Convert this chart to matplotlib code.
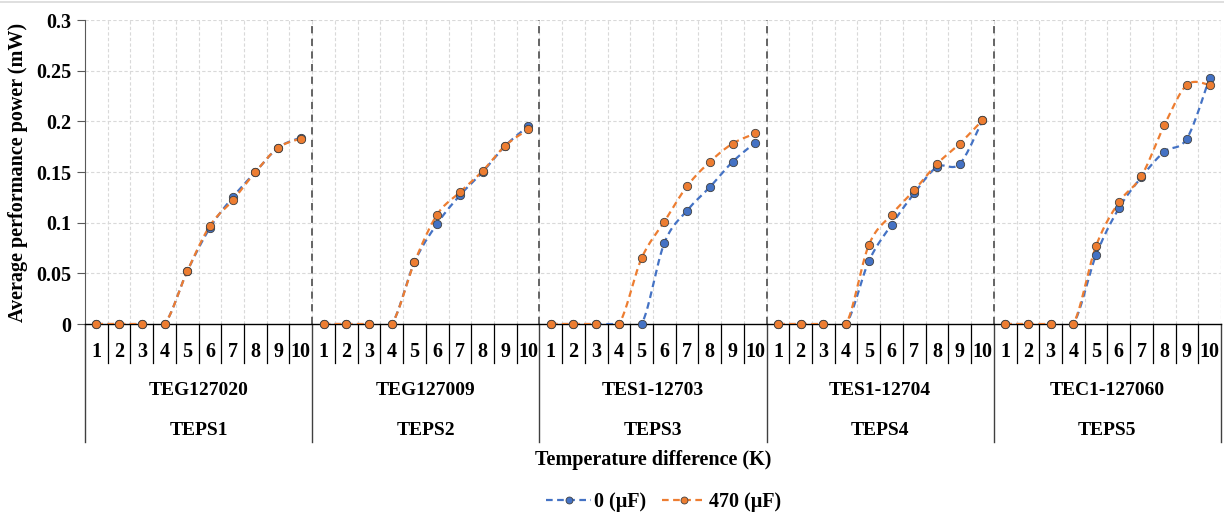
import numpy as np
import matplotlib.pyplot as plt
from matplotlib.lines import Line2D

plt.rcParams['font.family'] = ['Liberation Serif', 'DejaVu Serif']
plt.rcParams['font.weight'] = 'bold'

temps = list(range(1, 11))
modules = ["TEG127020", "TEG127009", "TES1-12703", "TES1-12704", "TEC1-127060"]
systems = ["TEPS1", "TEPS2", "TEPS3", "TEPS4", "TEPS5"]

# average power (mW), one list of 10 values per TEPS
power_0uF = [
    [0, 0, 0, 0, 0.052, 0.095, 0.125, 0.150, 0.174, 0.184],
    [0, 0, 0, 0, 0.061, 0.099, 0.127, 0.150, 0.176, 0.195],
    [0, 0, 0, 0, 0.000, 0.080, 0.112, 0.135, 0.160, 0.179],
    [0, 0, 0, 0, 0.062, 0.098, 0.129, 0.155, 0.158, 0.201],
    [0, 0, 0, 0, 0.068, 0.114, 0.145, 0.170, 0.183, 0.243],
]
power_470uF = [
    [0, 0, 0, 0, 0.052, 0.097, 0.122, 0.150, 0.174, 0.183],
    [0, 0, 0, 0, 0.061, 0.108, 0.130, 0.151, 0.176, 0.192],
    [0, 0, 0, 0, 0.065, 0.101, 0.136, 0.160, 0.178, 0.188],
    [0, 0, 0, 0, 0.078, 0.108, 0.132, 0.158, 0.178, 0.201],
    [0, 0, 0, 0, 0.077, 0.120, 0.146, 0.196, 0.236, 0.236],
]

BLUE = "#4472C4"
ORANGE = "#ED7D31"


def smooth(x, y, n=24):
    # Catmull-Rom style bezier, close to Excel's "smoothed line"
    x = np.asarray(x, float)
    y = np.asarray(y, float)
    pts = np.column_stack([x, y])
    out = []
    for i in range(len(pts) - 1):
        p0 = pts[max(i - 1, 0)]
        p1 = pts[i]
        p2 = pts[i + 1]
        p3 = pts[min(i + 2, len(pts) - 1)]
        c1 = p1 + (p2 - p0) / 6
        c2 = p2 - (p3 - p1) / 6
        t = np.linspace(0, 1, n)[:, None]
        seg = ((1 - t) ** 3 * p1 + 3 * (1 - t) ** 2 * t * c1
               + 3 * (1 - t) * t ** 2 * c2 + t ** 3 * p2)
        out.append(seg if i == 0 else seg[1:])
    out = np.vstack(out)
    return out[:, 0], out[:, 1]


fig = plt.figure(figsize=(12.24, 5.15), dpi=100)
ax = fig.add_axes([85 / 1224, 1 - 324 / 515, (1221 - 85) / 1224, 304 / 515])

ncat = len(temps) * len(modules)
ax.set_xlim(-0.5, ncat - 0.5)
ax.set_ylim(0, 0.3)

# grid
for b in np.arange(0.5, ncat, 1.0):
    ax.axvline(b, color="#D9D9D9", lw=0.8, ls=(0, (3, 2)), zorder=0)
ax.axvline(ncat - 0.5, color="#D9D9D9", lw=0.8, ls=(0, (3, 2)), zorder=0)
for v in np.arange(0.05, 0.31, 0.05):
    ax.axhline(v, color="#D9D9D9", lw=0.8, ls=(0, (3, 2)), zorder=0)

# group separators
for g in range(1, len(modules)):
    ax.axvline(g * 10 - 0.5, color="#595959", lw=1.3, ls=(0, (4, 3)), zorder=1)

for g in range(len(modules)):
    xs = np.arange(g * 10, g * 10 + 10)
    for vals, col in [(power_0uF[g], BLUE), (power_470uF[g], ORANGE)]:
        sx, sy = smooth(xs, vals)
        ax.plot(sx, sy, color=col, lw=1.6, ls=(0, (3, 2)), zorder=3)
        ax.plot(xs, vals, ls="none", marker="o", ms=6, mfc=col,
                mec="#404040", mew=0.6, zorder=4, clip_on=False)

for s in ["top", "right"]:
    ax.spines[s].set_visible(False)
ax.spines["left"].set_color("#595959")
ax.spines["bottom"].set_color("black")
ax.spines["bottom"].set_linewidth(1.0)

ax.set_yticks(np.arange(0, 0.31, 0.05))
ax.set_yticklabels(["0", "0.05", "0.1", "0.15", "0.2", "0.25", "0.3"])
ax.tick_params(axis="y", direction="out", length=6, color="#595959",
               labelsize=14.5, pad=4)
ax.set_xticks([])

# multi-level category axis
tr = ax.get_xaxis_transform()
for b in np.arange(0.5, ncat - 1, 1.0):
    if (b + 0.5) % 10 == 0:
        continue
    ax.plot([b, b], [0, -0.128], color="black", lw=0.9, transform=tr,
            clip_on=False)
for g in range(len(modules) + 1):
    b = g * 10 - 0.5
    ax.plot([b, b], [0, -0.388], color="#404040", lw=1.0, transform=tr,
            clip_on=False)
for g in range(len(modules)):
    for k, t in enumerate(temps):
        ax.text(g * 10 + k, -0.091, str(t), transform=tr, ha="center",
                va="center", fontsize=14.5, fontweight="bold")
    ax.text(g * 10 + 4.5, -0.220, modules[g], transform=tr, ha="center",
            va="center", fontsize=14, fontweight="bold")
    ax.text(g * 10 + 4.5, -0.349, systems[g], transform=tr, ha="center",
            va="center", fontsize=14, fontweight="bold")

fig.text(653 / 1224, 1 - 460 / 515, "Temperature difference (K)",
         ha="center", va="center", fontsize=14.5, fontweight="bold")
fig.text(18 / 1224, 1 - 172 / 515, "Average performance power (mW)",
         ha="center", va="center", rotation=90, fontsize=14.5,
         fontweight="bold")

handles = [
    Line2D([], [], color=BLUE, lw=1.6, ls=(0, (3, 2)), marker="o", ms=5,
           mfc=BLUE, mec="#404040", mew=0.6),
    Line2D([], [], color=ORANGE, lw=1.6, ls=(0, (3, 2)), marker="o", ms=5,
           mfc=ORANGE, mec="#404040", mew=0.6),
]
fig.legend(handles, ["0 (\u03bcF)", "470 (\u03bcF)"], loc="center",
           bbox_to_anchor=(664 / 1224, 1 - 502 / 515), ncol=2, frameon=False,
           fontsize=14.5, handlelength=2.2, columnspacing=0.8,
           handletextpad=0.15)

fig.add_artist(Line2D([0, 1], [1 - 2 / 515, 1 - 2 / 515], color="#D9D9D9",
                      lw=1.2, transform=fig.transFigure))

fig.savefig("out.png", dpi=100)
